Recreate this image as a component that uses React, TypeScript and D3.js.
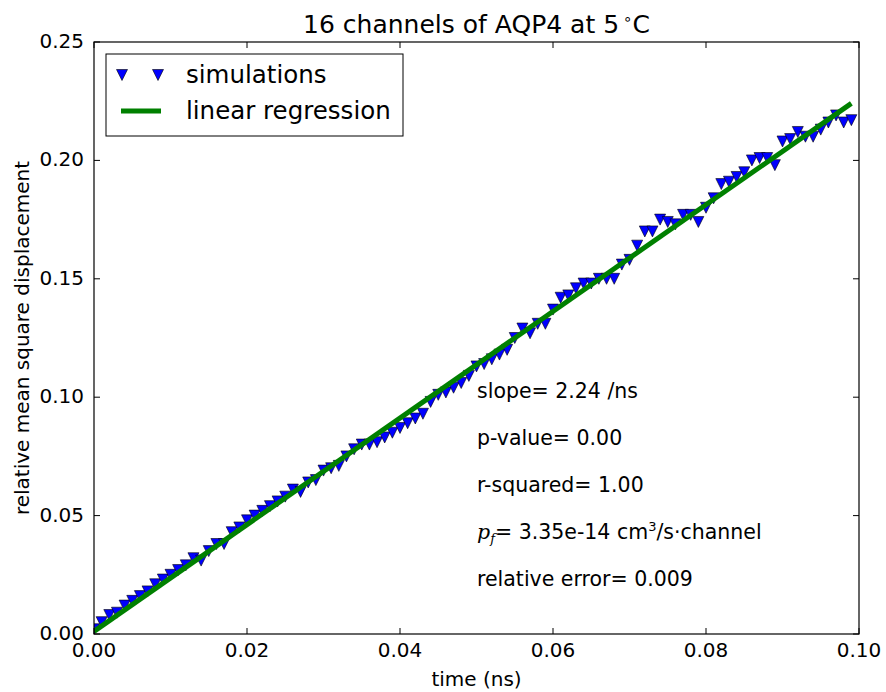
import React from "react";
import * as d3 from "d3";

const times: number[] = Array.from({ length: 100 }, (_, i) => i / 1000);
const msd: number[] = [
  0.002, 0.005, 0.008, 0.009, 0.012, 0.014, 0.016, 0.018, 0.021, 0.023,
  0.025, 0.027, 0.029, 0.032, 0.031, 0.035, 0.038, 0.038, 0.043, 0.045,
  0.048, 0.050, 0.052, 0.054, 0.056, 0.058, 0.061, 0.060, 0.064, 0.065,
  0.069, 0.070, 0.071, 0.075, 0.078, 0.080, 0.080, 0.081, 0.083, 0.085,
  0.087, 0.089, 0.091, 0.093, 0.098, 0.101, 0.102, 0.104, 0.106, 0.109,
  0.113, 0.114, 0.116, 0.118, 0.120, 0.125, 0.129, 0.127, 0.131, 0.131,
  0.137, 0.142, 0.143, 0.146, 0.148, 0.148, 0.150, 0.150, 0.150, 0.156,
  0.158, 0.164, 0.170, 0.170, 0.175, 0.174, 0.173, 0.177, 0.177, 0.174,
  0.180, 0.184, 0.190, 0.191, 0.193, 0.195, 0.200, 0.201, 0.201, 0.198,
  0.208, 0.209, 0.212, 0.210, 0.210, 0.213, 0.216, 0.219, 0.216, 0.217,
];
const xTicks = [0, 0.02, 0.04, 0.06, 0.08, 0.1];
const yTicks = [0, 0.05, 0.1, 0.15, 0.2, 0.25];
const legendLabels = ["simulations", "linear regression"];

const W = 886, H = 692;
const L = 94, R = 859, T = 42, B = 634;

function regression(xs: number[], ys: number[]) {
  const mx = d3.mean(xs)!, my = d3.mean(ys)!;
  let sxy = 0, sxx = 0;
  xs.forEach((x, i) => { sxy += (x - mx) * (ys[i] - my); sxx += (x - mx) ** 2; });
  const slope = sxy / sxx;
  return { slope, intercept: my - slope * mx };
}

export default function App() {
  const x = d3.scaleLinear().domain([0, 0.1]).range([L, R]);
  const y = d3.scaleLinear().domain([0, 0.25]).range([B, T]);
  const fit = regression(times, msd);
  const ext = d3.extent(times) as [number, number];
  const fitPts: [number, number][] = ext.map((t) => [t, fit.intercept + fit.slope * t]);
  const line = d3.line<[number, number]>().x((d) => x(d[0])).y((d) => y(d[1]));
  const tri = (cx: number, cy: number, s = 5.5) =>
    `M${cx},${cy + s}L${cx - s},${cy - s}L${cx + s},${cy - s}Z`;
  const font = "DejaVu Sans, sans-serif";
  const annY = [398, 445, 492, 539, 586];
  return (
    <svg width={W} height={H} style={{ position: "absolute", left: 0, top: 0, background: "#fff" }} fontFamily={font}>
      <rect x={0} y={0} width={W} height={H} fill="#fff" />
      <defs>
        <clipPath id="plot"><rect x={L} y={T} width={R - L} height={B - T} /></clipPath>
      </defs>
      <g clipPath="url(#plot)">
        {times.map((t, i) => (
          <path key={i} d={tri(x(t), y(msd[i]))} fill="#0000ff" stroke="#000" strokeWidth={0.6} />
        ))}
        <path d={line(fitPts)!} fill="none" stroke="#008000" strokeWidth={5} />
      </g>
      <rect x={L} y={T} width={R - L} height={B - T} fill="none" stroke="#000" strokeWidth={1.2} />
      {xTicks.map((t) => (
        <g key={t}>
          <line x1={x(t)} x2={x(t)} y1={B} y2={B - 6} stroke="#000" />
          <line x1={x(t)} x2={x(t)} y1={T} y2={T + 6} stroke="#000" />
          <text x={x(t)} y={657} textAnchor="middle" fontSize={20}>{t.toFixed(2)}</text>
        </g>
      ))}
      {yTicks.map((v) => (
        <g key={v}>
          <line x1={L} x2={L + 6} y1={y(v)} y2={y(v)} stroke="#000" />
          <line x1={R} x2={R - 6} y1={y(v)} y2={y(v)} stroke="#000" />
          <text x={L - 10} y={y(v) + 6} textAnchor="end" fontSize={20}>{v.toFixed(2)}</text>
        </g>
      ))}
      <text x={(L + R) / 2} y={33} textAnchor="middle" fontSize={25}>
        16 channels of AQP4 at 5<tspan dx={4} dy={-9} fontSize={15}>∘</tspan><tspan dy={9}>C</tspan>
      </text>
      <text x={(L + R) / 2} y={686} textAnchor="middle" fontSize={20}>time (ns)</text>
      <text transform={`translate(29,${(T + B) / 2}) rotate(-90)`} textAnchor="middle" fontSize={20}>
        relative mean square displacement
      </text>
      <g>
        <rect x={106} y={54} width={297} height={82} fill="#fff" stroke="#000" strokeWidth={1} />
        <path d={tri(122, 75)} fill="#0000ff" stroke="#000" strokeWidth={0.6} />
        <path d={tri(158, 75)} fill="#0000ff" stroke="#000" strokeWidth={0.6} />
        <text x={186} y={83} fontSize={24.5}>{legendLabels[0]}</text>
        <line x1={121} x2={161} y1={111} y2={111} stroke="#008000" strokeWidth={5} />
        <text x={186} y={119} fontSize={24.5}>{legendLabels[1]}</text>
      </g>
      <g fontSize={20.5}>
        <text x={477} y={annY[0]}>slope= 2.24 /ns</text>
        <text x={477} y={annY[1]}>p-value= 0.00</text>
        <text x={477} y={annY[2]}>r-squared= 1.00</text>
        <text x={477} y={annY[3]}>
          <tspan fontFamily="DejaVu Serif, serif" fontStyle="italic">p</tspan>
          <tspan fontFamily="DejaVu Serif, serif" fontStyle="italic" fontSize={13} dy={4}>f</tspan>
          <tspan dy={-4}>= 3.35e-14 cm</tspan>
          <tspan fontSize={13} dy={-8}>3</tspan>
          <tspan dy={8}>/s·channel</tspan>
        </text>
        <text x={477} y={annY[4]}>relative error= 0.009</text>
      </g>
    </svg>
  );
}
